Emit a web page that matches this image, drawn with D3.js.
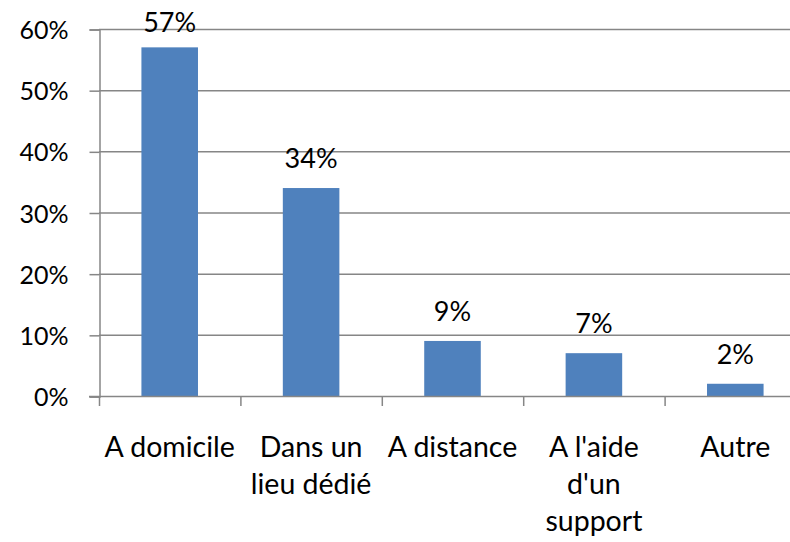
<!DOCTYPE html>
<html>
<head>
<meta charset="utf-8">
<script src="https://cdn.jsdelivr.net/npm/d3@7"></script>
<style>
  body { margin: 0; background: #fff; }
  svg text { font-family: Lato, "Open Sans", sans-serif; fill: #000; }
</style>
</head>
<body>
<div id="chart"></div>
<script>
// data
const categories = ["A domicile", "Dans un lieu dédié", "A distance", "A l'aide d'un support", "Autre"];
const catLines = [["A domicile"], ["Dans un", "lieu dédié"], ["A distance"], ["A l'aide", "d'un", "support"], ["Autre"]];
const values = [0.57, 0.34, 0.09, 0.07, 0.02];
const yTicks = [0, 0.1, 0.2, 0.3, 0.4, 0.5, 0.6];

const width = 790, height = 542;
const plot = {left: 99, right: 806, top: 29, bottom: 396};

const svg = d3.select('#chart').append('svg')
  .attr("width", width)
  .attr("height", height);

const x = d3.scaleBand()
  .domain(categories)
  .range([plot.left, plot.right])
  .paddingInner(0.6)
  .paddingOuter(0.3);

const y = d3.scaleLinear()
  .domain([0, 0.6])
  .range([plot.bottom, plot.top]);

// gridlines
svg.append("g").selectAll("line").data(yTicks.slice(1)).enter().append("line")
  .attr("x1", plot.left).attr("x2", plot.right)
  .attr("y1", d => y(d) + 0.5).attr("y2", d => y(d) + 0.5)
  .attr("stroke", "#868686").attr("stroke-width", 1.5);

// y axis
const yAxis = svg.append("g")
  .attr("transform", "translate(" + (plot.left + 0.5) + ",0.5)")
  .call(d3.axisLeft(y).tickValues(yTicks).tickFormat(d3.format(".0%")).tickSize(10).tickPadding(21));
yAxis.select(".domain").attr("stroke", "#868686").attr("stroke-width", 1.5);
yAxis.selectAll(".tick line").attr("stroke", "#868686").attr("stroke-width", 1.5);
yAxis.selectAll(".tick text").attr("font-size", 25).attr("dy", "0.36em");

// bars
svg.append("g").selectAll("rect").data(values).enter().append("rect")
  .attr("x", (d, i) => x(categories[i]))
  .attr("width", x.bandwidth())
  .attr("y", d => y(d))
  .attr("height", d => y(0) - y(d))
  .attr("fill", "#4F81BD");

// x axis
const step = x.step();
const xEdges = d3.range(categories.length + 1).map(i => plot.left + i * step);
svg.append("line")
  .attr("x1", plot.left - 10).attr("x2", plot.right)
  .attr("y1", plot.bottom + 0.5).attr("y2", plot.bottom + 0.5)
  .attr("stroke", "#868686").attr("stroke-width", 1.5);
svg.append("g").selectAll("line").data(xEdges).enter().append("line")
  .attr("x1", d => d + 0.5).attr("x2", d => d + 0.5)
  .attr("y1", plot.bottom).attr("y2", plot.bottom + 10)
  .attr("stroke", "#868686").attr("stroke-width", 1.5);

// value labels
svg.append("g").selectAll("text").data(values).enter().append("text")
  .attr("x", (d, i) => x(categories[i]) + x.bandwidth() / 2)
  .attr("y", d => Math.max(y(d) - 20, 32))
  .attr("text-anchor", "middle")
  .attr("font-size", 27)
  .text(d => d3.format(".0%")(d));

// category labels
const cl = svg.append("g").selectAll("text").data(catLines).enter().append("text")
  .attr("text-anchor", "middle")
  .attr("font-size", 28.5)
  .attr("x", (d, i) => x(categories[i]) + x.bandwidth() / 2);
cl.selectAll("tspan").data(d => d).enter().append("tspan")
  .attr("x", function() { return d3.select(this.parentNode).attr("x"); })
  .attr("y", (d, j) => 457 + j * 37)
  .text(d => d);
</script>
</body>
</html>
